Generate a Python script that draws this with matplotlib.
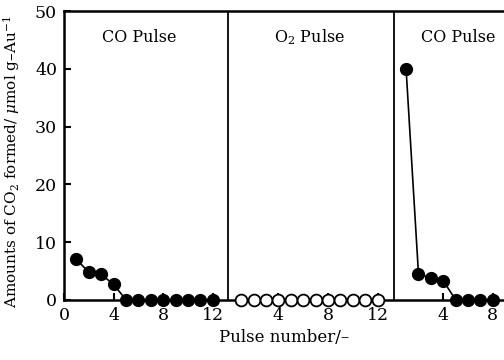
import numpy as np
import matplotlib.pyplot as plt

plt.rcParams['font.family'] = ['DejaVu Serif']
plt.rcParams['mathtext.fontset'] = 'dejavuserif'

# section 1: CO pulse, section 2: O2 pulse, section 3: CO pulse again
co1_pulse = [1, 2, 3, 4, 5, 6, 7, 8, 9, 10, 11, 12]
co1_value = [7.0, 4.8, 4.4, 2.7, 0, 0, 0, 0, 0, 0, 0, 0]

o2_pulse = [1, 2, 3, 4, 5, 6, 7, 8, 9, 10, 11, 12]
o2_value = [0, 0, 0, 0, 0, 0, 0, 0, 0, 0, 0, 0]

co2_pulse = [1, 2, 3, 4, 5, 6, 7, 8]
co2_value = [40.0, 4.5, 3.8, 3.3, 0, 0, 0, 0]

section_labels = ['CO Pulse', 'O$_2$ Pulse', 'CO Pulse']
section_start = [0, 13.3, 26.6]   # x offset where each section begins
dividers = [13.2, 26.6]

fig = plt.figure(figsize=(5.04, 3.6), dpi=100)
ax = fig.add_axes([0.127, 0.167, 0.873, 0.802])

ax.plot(np.array(co1_pulse) + section_start[0], co1_value, 'k-o', lw=1.2,
        ms=8.5, mfc='black', clip_on=False, zorder=3)
ax.plot(np.array(o2_pulse) + section_start[1], o2_value, 'k-o', lw=1.2,
        ms=8.5, mfc='white', mew=1.3, clip_on=False, zorder=3)
ax.plot(np.array(co2_pulse) + section_start[2], co2_value, 'k-o', lw=1.2,
        ms=8.5, mfc='black', clip_on=False, zorder=3)

for d in dividers:
    ax.axvline(d, color='black', lw=1.3)

label_x = [6.1, 19.8, 31.8]
for lx, txt in zip(label_x, section_labels):
    ax.text(lx, 45.5, txt, ha='center', va='center', fontsize=11.5)

ticks = [0, 4, 8, 12, 13.3 + 4, 13.3 + 8, 13.3 + 12, 26.6 + 4, 26.6 + 8]
tick_labels = ['0', '4', '8', '12', '4', '8', '12', '4', '8']
ax.set_xticks(ticks)
ax.set_xticklabels(tick_labels)
ax.set_yticks([0, 10, 20, 30, 40, 50])
ax.set_xlim(0, 35.5)
ax.set_ylim(0, 50)
ax.tick_params(direction='in', length=5, width=1.5, labelsize=12.5, pad=5)

for side in ['left', 'bottom', 'top']:
    ax.spines[side].set_linewidth(1.8)
ax.spines['right'].set_visible(False)

ax.set_xlabel('Pulse number/–', fontsize=12, labelpad=4)
ax.set_ylabel('Amounts of CO$_2$ formed/ $\\mu$mol g–Au$^{-1}$', fontsize=11,
              labelpad=5)
ax.yaxis.set_label_coords(-0.095, 0.48)

fig.savefig('out.png', dpi=100)
